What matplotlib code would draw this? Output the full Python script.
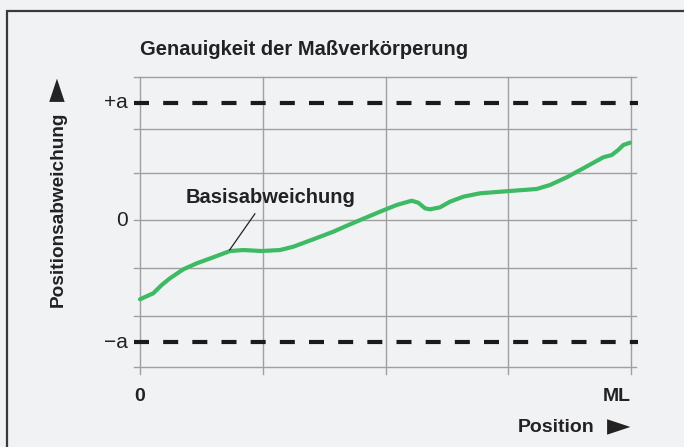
import matplotlib.pyplot as plt
from matplotlib.patches import Rectangle

# Basisabweichung curve (x: 0..4 = 0..ML, y: grid units)
pos_x = [0.0, 0.108, 0.177, 0.244, 0.353, 0.462, 0.597, 0.733, 0.842, 0.991,
         1.141, 1.249, 1.412, 1.575, 1.711, 1.955, 2.091, 2.213, 2.267, 2.322,
         2.363, 2.444, 2.525, 2.634, 2.770, 3.014, 3.232, 3.340, 3.476, 3.611,
         3.774, 3.843, 3.896, 3.937, 3.992]
dev_y = [-1.669, -1.543, -1.368, -1.227, -1.038, -0.912, -0.785, -0.653, -0.632, -0.653,
         -0.632, -0.562, -0.406, -0.246, -0.091, 0.175, 0.316, 0.406, 0.364, 0.246,
         0.225, 0.267, 0.385, 0.491, 0.562, 0.611, 0.653, 0.737, 0.899, 1.088,
         1.320, 1.368, 1.474, 1.579, 1.627]

x_grid = [0, 1, 2, 3, 4]
y_grid = [3.02, 1.92, 0.98, 0.0, -1.02, -2.02, -3.10]
plus_a = 2.47
minus_a = -2.57
y_labels = [(plus_a, '+a'), (0.0, '0'), (minus_a, '\u2212a')]
x_labels = [(0, '0'), (4, 'ML')]

BG = '#f1f2f4'
GRID = '#a0a0a0'
GREEN = '#3fba64'
TXT = '#222222'
plt.rcParams['font.family'] = ['Liberation Sans', 'DejaVu Sans']

fig = plt.figure(figsize=(6.84, 4.47), dpi=100, facecolor=BG)
ax = fig.add_axes([0, 0, 1, 1])
ax.set_facecolor(BG)
ax.axis('off')
# 140 px -> x=0, 631 px -> x=4 ; 220 px -> y=0, 47.5 px per unit
ax.set_xlim(-140 / 122.75, (684 - 140) / 122.75)
ax.set_ylim((220 - 447) / 47.5, 220 / 47.5)

# frame around the figure (top and left edges visible)
fig.patches.append(Rectangle((7 / 684, -0.2), 1.5, 1.2 - 11 / 447, transform=fig.transFigure,
                             fill=False, edgecolor='#3a3a3a', lw=1.6))

x0, x1 = x_grid[0], x_grid[-1]
ext = 0.05
for y in y_grid:
    ax.plot([x0 - ext, x1 + 0.04], [y, y], color=GRID, lw=1.0, zorder=1)
for x in x_grid:
    ax.plot([x, x], [y_grid[-1] - 0.15, y_grid[0]], color=GRID, lw=1.0, zorder=1)

for y in (plus_a, minus_a):
    ax.plot([x0 - ext, x1 + 0.06], [y, y], color='#1a1a1a', lw=3.0,
            dashes=(3.6, 3.4), zorder=2)

ax.plot(pos_x, dev_y, color=GREEN, lw=3.0, solid_capstyle='round',
        solid_joinstyle='round', zorder=3)

for y, t in y_labels:
    ax.text(x0 - 0.1, y, t, ha='right', va='center', fontsize=15, color=TXT)
for x, t in x_labels:
    ax.text(x, -3.72, t, ha='center' if x == 0 else 'right', va='center',
            fontsize=14, fontweight='bold', color=TXT)

ax.text(x0, 3.6, 'Genauigkeit der Maßverkörperung', ha='left', va='center',
        fontsize=14.5, fontweight='bold', color=TXT)
ax.text(1.06, 0.48, 'Basisabweichung', ha='center', va='center',
        fontsize=14.5, fontweight='bold', color=TXT)
ax.plot([0.936, 0.73], [0.13, -0.63], color=TXT, lw=0.9, zorder=4)

# axis titles with their arrow heads
ax.text(3.70, -4.36, 'Position', ha='right', va='center',
        fontsize=14, fontweight='bold', color=TXT)
ax.text(3.995, -4.36, '\u25ba', ha='right', va='center', fontsize=22,
        family='DejaVu Sans', color=TXT)
ax.text(-0.67, 0.22, 'Positionsabweichung', ha='center', va='center',
        rotation=90, fontsize=13.7, fontweight='bold', color=TXT)
ax.text(-0.67, 2.76, '\u25ba', ha='center', va='center', rotation=90,
        fontsize=22, family='DejaVu Sans', color=TXT)

fig.savefig('out.png', dpi=100, facecolor=BG)
